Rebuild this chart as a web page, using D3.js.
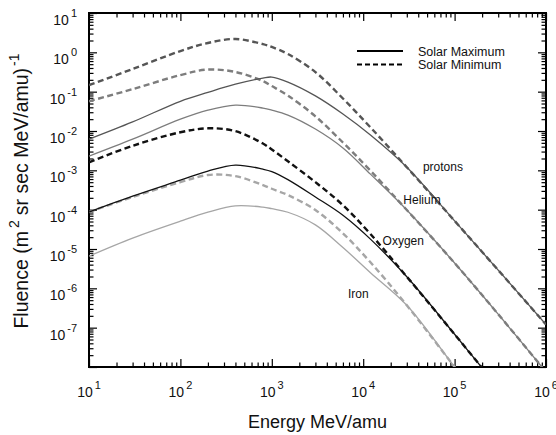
<!DOCTYPE html>
<html>
<head>
<meta charset="utf-8">
<script src="https://cdn.jsdelivr.net/npm/d3@7"></script>
<style>
  body { margin: 0; background: #fff; }
  text { font-family: "Liberation Sans", Arial, Helvetica, sans-serif; fill: #111; }
</style>
</head>
<body>
<svg id="chart" width="556" height="435"></svg>
<script>
// ---- data (energy in MeV/amu, fluence per m2 sr sec MeV/amu) ----
const energies   = [10, 30, 100, 200, 400, 800, 1000, 1500, 3000, 6000, 12000, 30000, 1e5, 3e5, 1e6];
const protonsMin = [0.147, 0.376, 1.08, 1.73, 2.18, 1.62, 1.37, 0.906, 0.315, 0.067, 0.0124, 1.2e-3, 5.2e-5, 2.9e-6, 1.2e-7];
const protonsMax = [6.2e-3, 1.7e-2, 5.7e-2, 9.6e-2, 0.155, 0.222, 0.235, 0.175, 0.078, 0.027, 7.9e-3, 1.2e-3, 5.2e-5, 2.9e-6, 1.2e-7];
const heliumMin  = [0.057, 0.116, 0.264, 0.365, 0.316, 0.186, 0.139, 0.0796, 0.0236, 5.1e-3, 9.8e-4, 9.8e-5, 4.4e-6, 2.2e-7, 7.5e-9];
const heliumMax  = [2.3e-3, 6.2e-3, 0.020, 0.034, 0.0456, 0.0383, 0.034, 0.0254, 0.0112, 3.7e-3, 8.0e-4, 9.8e-5, 4.4e-6, 2.2e-7, 7.5e-9];
const oxygenMin  = [1.6e-3, 4.2e-3, 9.3e-3, 0.0117, 9.9e-3, 4.8e-3, 3.4e-3, 1.7e-3, 5.0e-4, 1.3e-4, 2.4e-5, 1.97e-6, 6.8e-8, 3.0e-9, 1e-10];
const oxygenMax  = [8.7e-5, 2.2e-4, 5.6e-4, 9.6e-4, 1.36e-3, 1.07e-3, 9.3e-4, 5.8e-4, 2.1e-4, 7.2e-5, 1.78e-5, 1.97e-6, 6.8e-8, 3.0e-9, 1e-10];
const ironMin    = [8.7e-5, 2.1e-4, 5.0e-4, 7.6e-4, 7.1e-4, 4.2e-4, 3.4e-4, 2.35e-4, 9.8e-5, 2.5e-5, 4.6e-6, 3.7e-7, 1.0e-8, 3.7e-10, 1e-11];
const ironMax    = [6.6e-6, 1.9e-5, 5.1e-5, 8.6e-5, 1.25e-4, 1.16e-4, 1.06e-4, 8.6e-5, 4.1e-5, 1.09e-5, 2.5e-6, 3.7e-7, 1.0e-8, 3.7e-10, 1e-11];

const xExponents = [1, 2, 3, 4, 5, 6];
const yExponents = [1, 0, -1, -2, -3, -4, -5, -6, -7];
const legendLabels = ["Solar Maximum", "Solar Minimum"];

// series: [values, colour, dashed]
const series = [
    [ironMax, "#a6a6a6", false], [ironMin, "#a6a6a6", true],
    [heliumMax, "#7d7d7d", false], [heliumMin, "#7d7d7d", true],
    [protonsMax, "#555", false], [protonsMin, "#555", true],
    [oxygenMax, "#111", false], [oxygenMin, "#111", true]
];

// label anchors (energy, fluence at the text baseline start)
const curveLabels = [
    {text: "protons", e: 45000, f: 9.6e-4},
    {text: "Helium", e: 27500, f: 1.4e-4},
    {text: "Oxygen", e: 16300, f: 1.26e-5},
    {text: "Iron", e: 6800, f: 5.6e-7}
];

const margin = { top: 13, right: 10, bottom: 68, left: 89 };
const width = 556 - margin.left - margin.right;
const height = 435 - margin.top - margin.bottom;

const svg = d3.select("#chart").append("g")
    .attr("transform", `translate(${margin.left},${margin.top})`);

const x = d3.scaleLog().domain([10, 1e6]).range([0, width]);
const y = d3.scaleLog().domain([1e-8, 10]).range([height, 0]);

function minorTicks(lo, hi) {
    const t = [];
    for (let e = lo; e < hi; e++) {
        for (let k = 2; k <= 9; k++) t.push(k * Math.pow(10, e));
    }
    return t;
}
const xMajor = d3.range(1, 7).map(e => Math.pow(10, e));
const yMajor = d3.range(-8, 2).map(e => Math.pow(10, e));
const xMinor = minorTicks(1, 6);
const yMinor = minorTicks(-8, 1);

// ticks on all four sides, pointing inward
function ticks(axis, values, size, transform) {
    svg.append("g")
        .attr("transform", transform || null)
        .call(axis.tickValues(values).tickSize(size).tickFormat(""))
        .call(g => g.select(".domain").remove())
        .call(g => g.selectAll("line").attr("stroke", "#000").attr("stroke-width", 1.2));
}
ticks(d3.axisBottom(x), xMajor, -8, `translate(0,${height})`);
ticks(d3.axisBottom(x), xMinor, -4.5, `translate(0,${height})`);
ticks(d3.axisTop(x), xMajor, -8);
ticks(d3.axisTop(x), xMinor, -4.5);
ticks(d3.axisLeft(y), yMajor, -8);
ticks(d3.axisLeft(y), yMinor, -4.5);
ticks(d3.axisRight(y), yMajor, -8, `translate(${width},0)`);
ticks(d3.axisRight(y), yMinor, -4.5, `translate(${width},0)`);

// frame
svg.append("rect")
    .attr("width", width).attr("height", height)
    .attr("fill", "none").attr("stroke", "#000").attr("stroke-width", 2);

// tick labels as 10^n
xExponents.forEach(e => {
    const t = svg.append("text")
        .attr("x", x(Math.pow(10, e)))
        .attr("y", height + 30)
        .attr("text-anchor", "middle")
        .style("font-size", "14px");
    t.append("tspan").text("10");
    t.append("tspan").attr("dx", 2).attr("dy", -8).style("font-size", "11px").text(e);
});
yExponents.forEach(e => {
    const t = svg.append("text")
        .attr("x", -12)
        .attr("y", y(Math.pow(10, e)) + 12)
        .attr("text-anchor", "end")
        .style("font-size", "14px");
    t.append("tspan").text("10");
    t.append("tspan").attr("dx", 2).attr("dy", -8).style("font-size", "11px").text(e);
});

// axis titles
svg.append("text")
    .attr("x", width / 2)
    .attr("y", height + 61)
    .attr("text-anchor", "middle")
    .style("font-size", "18px")
    .text("Energy MeV/amu");

const yt = svg.append("text")
    .attr("transform", `translate(${-61},${178}) rotate(-90)`)
    .attr("text-anchor", "middle")
    .style("font-size", "19.5px");
yt.append("tspan").text("Fluence  (m");
yt.append("tspan").attr("dx", 3).attr("dy", -9).style("font-size", "14px").text("2");
yt.append("tspan").attr("dx", 5).attr("dy", 9).text("sr sec MeV/amu)");
yt.append("tspan").attr("dx", 2).attr("dy", -9).style("font-size", "14px").text("-1");

// curves
svg.append("clipPath").attr("id", "plot-clip")
    .append("rect").attr("width", width).attr("height", height);

const line = d3.line()
    .x((d, i) => x(energies[i]))
    .y(d => y(d))
    .curve(d3.curveCatmullRom.alpha(0.5));

const plot = svg.append("g").attr("clip-path", "url(#plot-clip)");
series.forEach(([vals, color, dashed]) => {
    plot.append("path")
        .datum(vals)
        .attr("fill", "none")
        .attr("stroke", color)
        .attr("stroke-width", dashed ? 2.4 : 1.3)
        .attr("stroke-dasharray", dashed ? "6,3.5" : null)
        .attr("d", line);
});

// curve labels
curveLabels.forEach(l => {
    svg.append("text")
        .attr("x", x(l.e))
        .attr("y", y(l.f))
        .style("font-size", "12px")
        .text(l.text);
});

// legend
const legend = svg.append("g").attr("transform", `translate(${357 - margin.left},${51 - margin.top})`);
legendLabels.forEach((lab, i) => {
    const row = legend.append("g").attr("transform", `translate(0,${i * 13.5})`);
    row.append("line")
        .attr("x1", 0).attr("x2", 46)
        .attr("stroke", "#000")
        .attr("stroke-width", 2)
        .attr("stroke-dasharray", i === 1 ? "5,3" : null);
    row.append("text")
        .attr("x", 61).attr("y", 4.5)
        .style("font-size", "12.5px")
        .text(lab);
});
</script>
</body>
</html>
